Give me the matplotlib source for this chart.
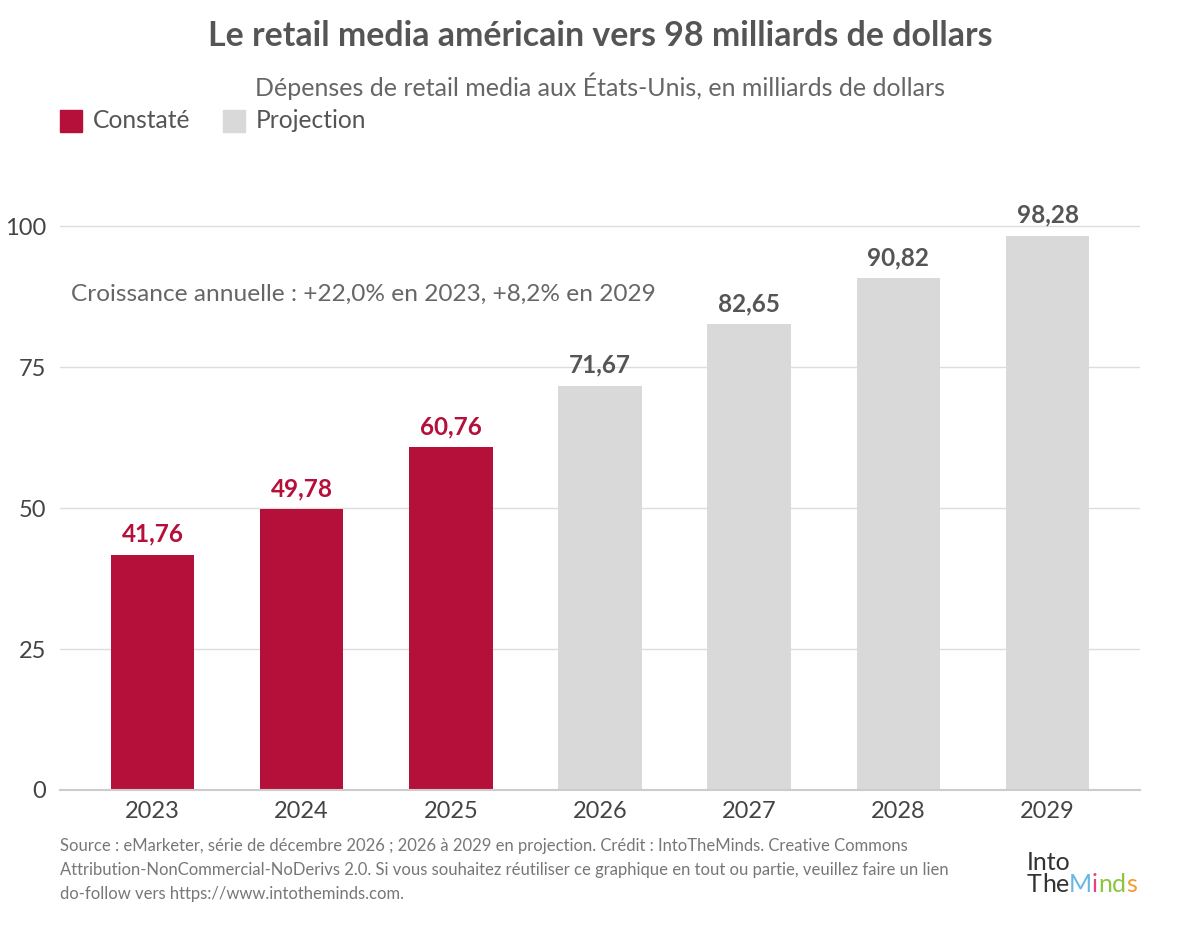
import matplotlib.pyplot as plt

plt.rcParams['font.family'] = ['Lato', 'DejaVu Sans']

# data
years = ['2023', '2024', '2025', '2026', '2027', '2028', '2029']
values = [41.76, 49.78, 60.76, 71.67, 82.65, 90.82, 98.28]
observed = [True, True, True, False, False, False, False]
y_ticks = [0, 25, 50, 75, 100]

RED = '#b5103a'
GREY = '#d9d9d9'

fig = plt.figure(figsize=(12, 9.27), dpi=100)
ax = fig.add_axes([0.05, 0.1478, 0.90, 0.669])

x = list(range(len(years)))
colors = [RED if o else GREY for o in observed]
ax.bar(x, values, width=0.56, color=colors, zorder=2)

# value labels
for xi, v, o in zip(x, values, observed):
    ax.text(xi, v + 1.6, f'{v:.2f}'.replace('.', ','), ha='center', va='bottom',
            fontsize=17.5, fontweight='bold', color=RED if o else '#555555')

ax.set_xlim(-0.62, 6.62)
ax.set_ylim(0, 110)
ax.set_yticks(y_ticks)
ax.set_xticks(x)
ax.set_xticklabels(years)
ax.tick_params(axis='both', length=0, labelsize=17, labelcolor='#444444')
ax.tick_params(axis='y', pad=10)
ax.tick_params(axis='x', pad=8)
ax.grid(axis='y', color='#dddddd', linewidth=1, zorder=0)
for s in ['top', 'right', 'left']:
    ax.spines[s].set_visible(False)
ax.spines['bottom'].set_color('#cccccc')
ax.spines['bottom'].set_linewidth(1.5)
ax.spines['bottom'].set_zorder(3)

ax.text(0.01, 0.80, 'Croissance annuelle : +22,0% en 2023, +8,2% en 2029',
        transform=ax.transAxes, fontsize=17.6, color='#666666', va='center')

# titles
fig.text(0.5, 1 - 36 / 927, 'Le retail media américain vers 98 milliards de dollars',
         ha='center', va='center', fontsize=24.4, fontweight='bold', color='#555555')
fig.text(0.5, 1 - 86 / 927, 'Dépenses de retail media aux États-Unis, en milliards de dollars',
         ha='center', va='center', fontsize=18, color='#666666')

# legend
leg_y = 1 - 121 / 927
fig.patches.append(plt.Rectangle((60 / 1200, 1 - 132 / 927), 22 / 1200, 22 / 927,
                                 transform=fig.transFigure, color=RED))
fig.text(93 / 1200, leg_y, 'Constaté', va='center', fontsize=17.7, color='#555555')
fig.patches.append(plt.Rectangle((223 / 1200, 1 - 132 / 927), 22 / 1200, 22 / 927,
                                 transform=fig.transFigure, color=GREY))
fig.text(256 / 1200, leg_y, 'Projection', va='center', fontsize=17.7, color='#555555')

# footer
footer = ['Source : eMarketer, série de décembre 2026 ; 2026 à 2029 en projection. Crédit : IntoTheMinds. Creative Commons',
          'Attribution-NonCommercial-NoDerivs 2.0. Si vous souhaitez réutiliser ce graphique en tout ou partie, veuillez faire un lien',
          'do-follow vers https://www.intotheminds.com.']
for i, line in enumerate(footer):
    fig.text(60 / 1200, 1 - (846 + 24 * i) / 927, line, va='center', fontsize=12, color='#777777')

# logo text, letters placed one after another
fig.text(1027 / 1200, 1 - 862 / 927, 'Into', fontsize=18, color='#333333', va='center')
renderer = fig.canvas.get_renderer()
cur = 1027
for ch, cc in zip('TheMinds', ['#333333'] * 3 + ['#6ab8e0', '#e0457b', '#8cc63f', '#8cc63f', '#f39c34']):
    t = fig.text(cur / 1200, 1 - 884 / 927, ch, fontsize=18, color=cc, va='center')
    cur += t.get_window_extent(renderer).width

fig.savefig('out.png', dpi=100)
